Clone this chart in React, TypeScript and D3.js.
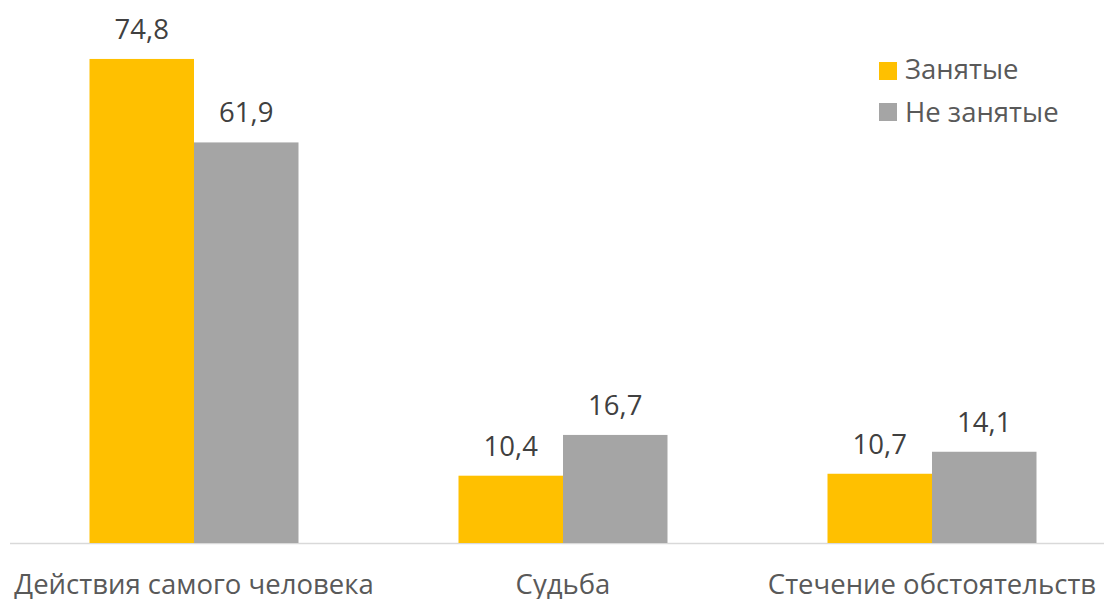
import React, { useRef, useEffect } from 'react'
import * as d3 from 'd3'

const categories = ['Действия самого человека', 'Судьба', 'Стечение обстоятельств']
const seriesNames = ['Занятые', 'Не занятые']
const employed = [74.8, 10.4, 10.7]
const unemployed = [61.9, 16.7, 14.1]
const colors = ['#FFC000', '#A5A5A5']

export default function App() {
  const svgRef = useRef<SVGSVGElement>(null)

  useEffect(() => {
    const width = 1104
    const height = 599
    const baseY = 543
    const font = '"Open Sans", sans-serif'
    const fontSize = 27.5

    const svg = d3.select(svgRef.current)
    svg.selectAll('*').remove()
    svg.attr('width', width).attr('height', height)

    const values = [employed, unemployed]

    // group scale
    const x0 = d3.scaleBand<string>()
      .domain(categories)
      .range([9.5, 1116.5])
      .paddingInner(0.4336)
      .paddingOuter(0.2168)

    const x1 = d3.scaleBand<string>()
      .domain(seriesNames)
      .range([0, x0.bandwidth()])

    const y = d3.scaleLinear()
      .domain([0, 80])
      .range([baseY, 25.3])

    // axis line
    svg.append('line')
      .attr('x1', 10).attr('x2', width)
      .attr('y1', baseY + 0.5).attr('y2', baseY + 0.5)
      .attr('stroke', '#D9D9D9')
      .attr('stroke-width', 1.5)

    seriesNames.forEach((s, si) => {
      const g = svg.append('g')
      g.selectAll('rect')
        .data(values[si])
        .join('rect')
        .attr('x', (d, i) => x0(categories[i])! + x1(s)!)
        .attr('y', d => y(d))
        .attr('width', x1.bandwidth())
        .attr('height', d => baseY - y(d))
        .attr('fill', colors[si])

      g.selectAll('text')
        .data(values[si])
        .join('text')
        .attr('x', (d, i) => x0(categories[i])! + x1(s)! + x1.bandwidth() / 2)
        .attr('y', d => y(d) - 20)
        .attr('text-anchor', 'middle')
        .attr('font-family', font)
        .attr('font-size', fontSize)
        .attr('fill', '#404040')
        .text(d => d.toFixed(1).replace('.', ','))
    })

    // category labels
    svg.append('g')
      .selectAll('text')
      .data(categories)
      .join('text')
      .attr('x', d => x0(d)! + x0.bandwidth() / 2)
      .attr('y', 594)
      .attr('text-anchor', 'middle')
      .attr('font-family', font)
      .attr('font-size', fontSize)
      .attr('fill', '#595959')
      .text(d => d)

    // legend
    const legend = svg.append('g')
    seriesNames.forEach((s, i) => {
      legend.append('rect')
        .attr('x', 879)
        .attr('y', 62 + i * 41)
        .attr('width', 18)
        .attr('height', 18)
        .attr('fill', colors[i])
      legend.append('text')
        .attr('x', 905)
        .attr('y', 79 + i * 43)
        .attr('font-family', font)
        .attr('font-size', fontSize)
        .attr('fill', '#595959')
        .text(s)
    })
  }, [])

  return (
    <svg ref={svgRef} style={{ position: 'absolute', left: 0, top: 0, display: 'block' }}></svg>
  )
}
